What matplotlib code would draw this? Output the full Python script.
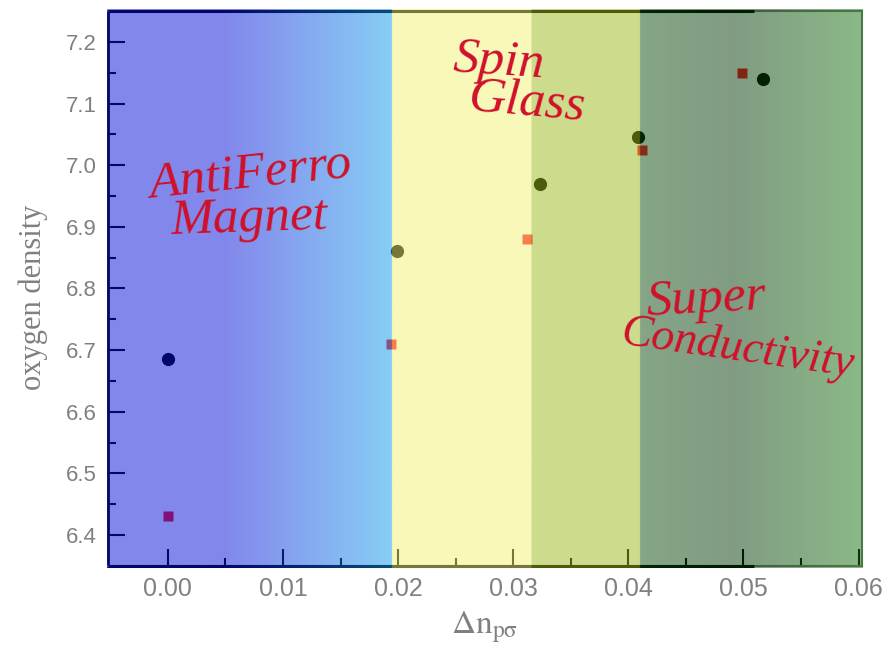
import numpy as np
import matplotlib.pyplot as plt
from matplotlib.colors import LinearSegmentedColormap

plt.rcParams['mathtext.fontset'] = 'stix'

# measured points
circ_x = [0.0, 0.0199, 0.0323, 0.0408, 0.0517]
circ_y = [6.686, 6.860, 6.969, 7.045, 7.140]
sq_x = [0.0, 0.0194, 0.0312, 0.0412, 0.0499]
sq_y = [6.431, 6.710, 6.880, 7.024, 7.150]

# phase boundaries along the x axis
x_lo, x_hi = -0.0052, 0.0603
y_lo, y_hi = 6.35, 7.25
b_af, b_sg, b_sc = 0.0195, 0.0316, 0.041

# overlay colour stops (x, rgb) drawn at alpha 0.5 over everything
stops = [
    (x_lo, (5, 15, 215)), (0.005, (5, 15, 215)), (b_af - 1e-5, (15, 155, 235)),
    (b_af, (241, 241, 115)), (b_sg - 1e-5, (241, 241, 115)),
    (b_sg, (155, 185, 25)), (b_sc - 1e-5, (155, 185, 25)),
    (b_sc, (11, 75, 15)), (0.049, (1, 55, 5)), (x_hi, (21, 115, 15)),
]

fig = plt.figure(figsize=(8.88, 6.55), dpi=100)
ax = fig.add_axes([0.1216, 0.1359, 0.8491, 0.8473])
ax.set_axisbelow(True)

pos = [(s[0] - x_lo) / (x_hi - x_lo) for s in stops]
cols = [tuple(c / 255 for c in s[1]) for s in stops]
cmap = LinearSegmentedColormap.from_list('phases', list(zip(pos, cols)), N=1024)
grad = np.linspace(0, 1, 1024).reshape(1, -1)
dx, dy = 0.00012, 0.0025
ax.imshow(grad, cmap=cmap, aspect='auto',
          extent=[x_lo - dx, x_hi, y_lo - dy, y_hi + dy],
          alpha=0.5, zorder=4, interpolation='bilinear', clip_on=False)
ax.set_xlim(x_lo, x_hi)
ax.set_ylim(y_lo, y_hi)

ax.plot(circ_x, circ_y, 'o', color='black', ms=8.5, zorder=3)
ax.plot(sq_x, sq_y, 's', color='#ff1020', ms=7, mec='none', zorder=3)

# frame: gray outline, black on the left and along part of top/bottom
for s in ax.spines.values():
    s.set_color('#808080')
    s.set_linewidth(1.5)
    s.set_zorder(2.5)
ax.spines['left'].set_color('black')
ax.spines['left'].set_linewidth(2)
for yy in (y_lo, y_hi):
    ax.plot([x_lo, 0.0509], [yy, yy], color='black', lw=2.2, zorder=2.6,
            clip_on=False, solid_capstyle='butt')

ax.set_xticks(np.arange(0, 0.061, 0.01))
ax.set_xticks(np.arange(0.005, 0.06, 0.01), minor=True)
ax.set_yticks(np.arange(6.4, 7.21, 0.1))
ax.set_yticks(np.arange(6.45, 7.25, 0.1), minor=True)
ax.tick_params(which='both', direction='in', color='black', width=1.5,
               labelcolor='#808080', top=False, right=False)
ax.tick_params(which='major', length=12, pad=8)
ax.tick_params(which='minor', length=6)
ax.set_xticklabels(['%.2f' % v for v in np.arange(0, 0.061, 0.01)],
                   family='Liberation Sans', fontsize=18)
ax.set_yticklabels(['%.1f' % v for v in np.arange(6.4, 7.21, 0.1)],
                   family='Liberation Sans', fontsize=16)

ax.set_ylabel('oxygen density', family='Liberation Serif', fontsize=22,
              color='#808080', labelpad=14)
ax.yaxis.set_label_coords(-0.08, 0.485)
ax.set_xlabel(r'$\mathrm{\Delta n_{p\sigma}}$', fontsize=24, color='#808080',
              labelpad=6)

red = '#d0102a'
hand = dict(family='Liberation Serif', style='italic', color=red, fontsize=37,
            zorder=5, ha='center', va='center')
ax.text(0.0072, 6.985, 'AntiFerro', rotation=6, **hand)
ax.text(0.0071, 6.912, 'Magnet', rotation=2, **hand)
ax.text(0.0287, 7.167, 'Spin', rotation=-4, **hand)
ax.text(0.0312, 7.100, 'Glass', rotation=-5, **hand)
ax.text(0.0468, 6.782, 'Super', rotation=3, **hand)
hand['fontsize'] = 33
ax.text(0.0495, 6.702, 'Conductivity', rotation=-8, **hand)

fig.savefig('out.png', dpi=100)
